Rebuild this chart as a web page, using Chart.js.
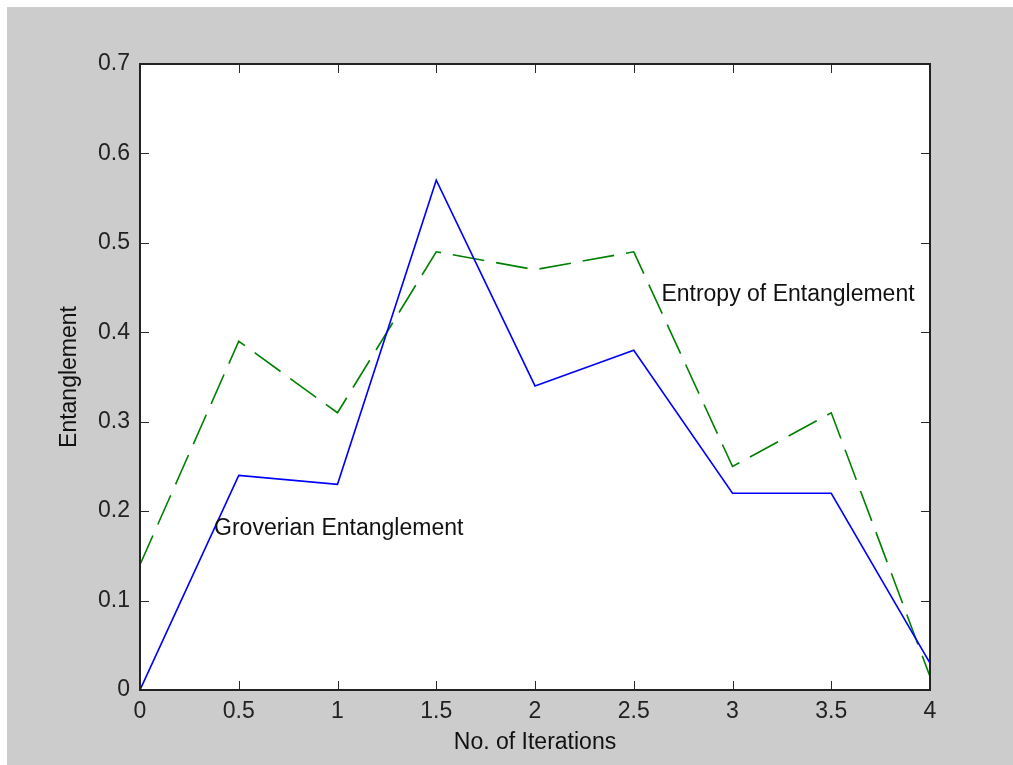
<!DOCTYPE html>
<html lang="en">
<head>
    <meta charset="UTF-8">
    <title>Entanglement vs. No. of Iterations</title>
    <script src="https://cdn.jsdelivr.net/npm/chart.js@4.4.1/dist/chart.umd.min.js"></script>
    <style>
        html, body { margin: 0; padding: 0; background: #ffffff; }
        #chart { display: block; }
    </style>
</head>
<body>
    <canvas id="chart" width="1013" height="765"></canvas>

    <script>
        // data
        const iterations = [0, 0.5, 1, 1.5, 2, 2.5, 3, 3.5, 4];
        const groverian = [0, 0.24, 0.23, 0.57, 0.34, 0.38, 0.22, 0.22, 0.03];
        const entropy = [0.14, 0.39, 0.31, 0.49, 0.47, 0.49, 0.25, 0.31, 0.015];

        // in-plot text labels, placed in data coordinates (left edge, middle)
        const labelTexts = ['Groverian Entanglement', 'Entropy of Entanglement'];
        const labelX = [0.375, 2.64];
        const labelY = [0.18, 0.442];

        const FONT = "'Liberation Sans', Arial, sans-serif";
        const GRAY = '#cccccc';

        const toPoints = (xs, ys) => xs.map((x, i) => ({ x: x, y: ys[i] }));
        // MATLAB prints 1, 2, 3 rather than 1.0, 2.0, 3.0
        const plainTick = v => String(Number(v.toFixed(2)));

        // gray figure background + white axes area
        const backgroundPlugin = {
            id: 'figureBackground',
            beforeDraw(chart) {
                const { ctx, chartArea: a } = chart;
                ctx.save();
                ctx.fillStyle = '#ffffff';
                ctx.fillRect(0, 0, chart.width, chart.height);
                ctx.fillStyle = GRAY;
                ctx.fillRect(7, 7, chart.width - 7, chart.height - 7);
                ctx.fillStyle = '#ffffff';
                ctx.fillRect(a.left, a.top, a.right - a.left, a.bottom - a.top);
                ctx.restore();
            }
        };

        // box with inward ticks on all four sides, plus text labels
        const boxPlugin = {
            id: 'axesBox',
            afterDraw(chart) {
                const { ctx, chartArea: a, scales } = chart;
                const tick = 9;
                ctx.save();
                ctx.strokeStyle = '#2a2a2a';
                ctx.lineWidth = 1;
                ctx.beginPath();
                scales.x.ticks.forEach(t => {
                    const px = Math.round(scales.x.getPixelForValue(t.value)) + 0.5;
                    ctx.moveTo(px, a.bottom); ctx.lineTo(px, a.bottom - tick);
                    ctx.moveTo(px, a.top); ctx.lineTo(px, a.top + tick);
                });
                scales.y.ticks.forEach(t => {
                    const py = Math.round(scales.y.getPixelForValue(t.value)) + 0.5;
                    ctx.moveTo(a.left, py); ctx.lineTo(a.left + tick, py);
                    ctx.moveTo(a.right, py); ctx.lineTo(a.right - tick, py);
                });
                ctx.stroke();

                ctx.lineWidth = 2;
                ctx.strokeStyle = '#222222';
                ctx.strokeRect(a.left, a.top, a.right - a.left, a.bottom - a.top);

                ctx.fillStyle = '#111111';
                ctx.font = '23px ' + FONT;
                ctx.textAlign = 'left';
                ctx.textBaseline = 'middle';
                labelTexts.forEach((txt, i) => {
                    ctx.fillText(txt, scales.x.getPixelForValue(labelX[i]), scales.y.getPixelForValue(labelY[i]));
                });
                ctx.restore();
            }
        };

        new Chart(document.getElementById('chart'), {
            type: 'line',
            data: {
                datasets: [
                    {
                        label: 'Groverian Entanglement',
                        data: toPoints(iterations, groverian),
                        borderColor: '#0000ff',
                        borderWidth: 1.6,
                        pointRadius: 0,
                        tension: 0,
                        fill: false
                    },
                    {
                        label: 'Entropy of Entanglement',
                        data: toPoints(iterations, entropy),
                        borderColor: '#008000',
                        borderWidth: 1.6,
                        borderDash: [32, 12],
                        pointRadius: 0,
                        tension: 0,
                        fill: false
                    }
                ]
            },
            options: {
                responsive: false,
                animation: false,
                devicePixelRatio: 1,
                layout: { padding: { top: 64, right: 83, left: 0, bottom: 0 } },
                plugins: {
                    legend: { display: false },
                    tooltip: { enabled: false }
                },
                scales: {
                    x: {
                        type: 'linear',
                        min: 0,
                        max: 4,
                        grid: { display: false, drawTicks: false },
                        border: { display: false },
                        ticks: {
                            stepSize: 0.5,
                            padding: 8,
                            color: '#222222',
                            font: { family: FONT, size: 23 },
                            callback: plainTick
                        },
                        title: {
                            display: true,
                            text: 'No. of Iterations',
                            color: '#111111',
                            font: { family: FONT, size: 23 },
                            padding: { top: 0, bottom: 9 }
                        },
                        afterFit: scale => { scale.height = 75; }
                    },
                    y: {
                        min: 0,
                        max: 0.7,
                        grid: { display: false, drawTicks: false },
                        border: { display: false },
                        ticks: {
                            stepSize: 0.1,
                            padding: 10,
                            color: '#222222',
                            font: { family: FONT, size: 23 },
                            callback: plainTick
                        },
                        title: {
                            display: true,
                            text: 'Entanglement',
                            color: '#111111',
                            font: { family: FONT, size: 23 },
                            padding: { top: 56, bottom: 0 }
                        },
                        afterFit: scale => { scale.width = 140; }
                    }
                }
            },
            plugins: [backgroundPlugin, boxPlugin]
        });
    </script>
</body>
</html>
